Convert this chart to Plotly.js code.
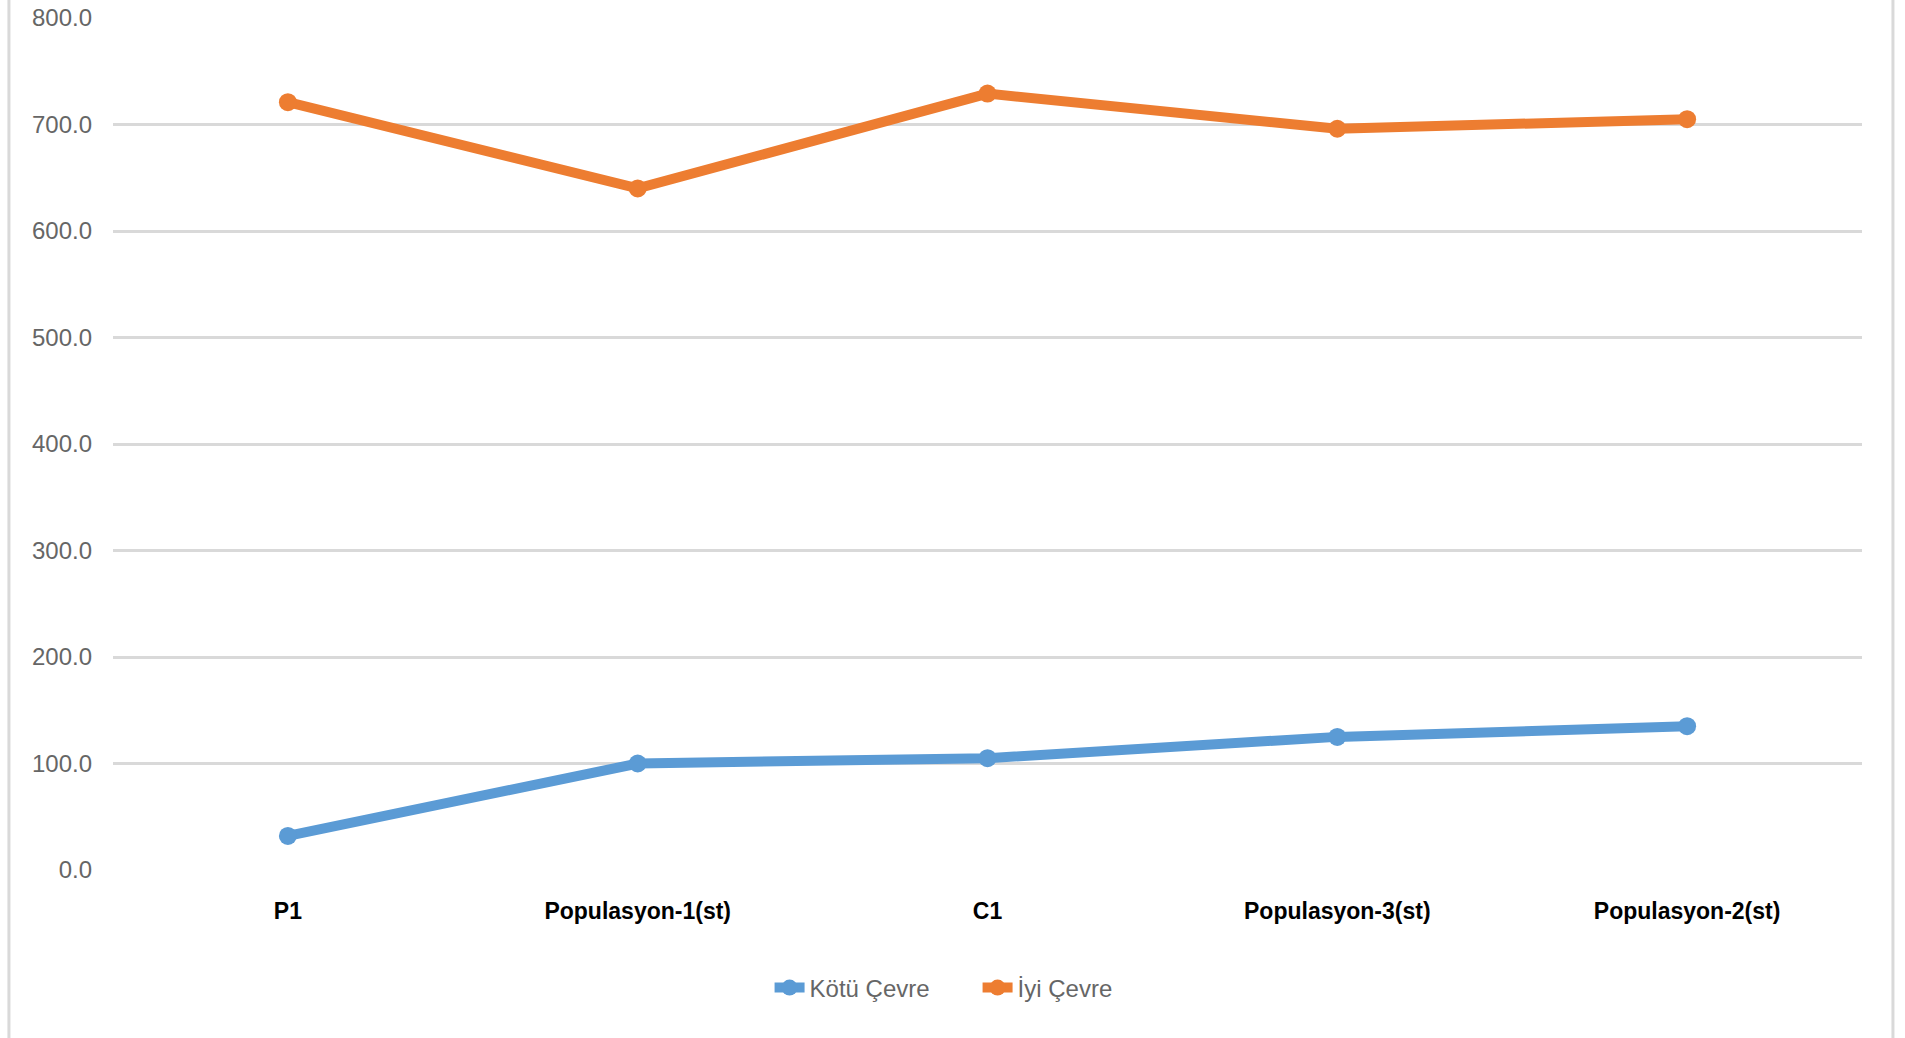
<!DOCTYPE html>
<html>
<head>
<meta charset="utf-8">
<script src="https://cdn.plot.ly/plotly-3.0.1.min.js"></script>
<style>html,body{margin:0;padding:0;background:#fff;}#chart{width:1905px;height:1038px;}</style>
</head>
<body>
<div id="chart"></div>
<script>
const categories = ["P1", "Populasyon-1(st)", "C1", "Populasyon-3(st)", "Populasyon-2(st)"];
const kotuCevre = [32, 100, 105, 125, 135];
const iyiCevre = [721, 640, 729, 696, 705];
const seriesNames = ["Kötü Çevre", "İyi Çevre"];
const yTicks = [0, 100, 200, 300, 400, 500, 600, 700, 800];

const sans = '"Liberation Sans", Arial, sans-serif';

const traces = [
  {x: categories, y: kotuCevre, name: seriesNames[0], type: 'scatter', mode: 'lines+markers',
   line: {color: '#5B9BD5', width: 10}, marker: {color: '#5B9BD5', size: 18}},
  {x: categories, y: iyiCevre, name: seriesNames[1], type: 'scatter', mode: 'lines+markers',
   line: {color: '#ED7D31', width: 10}, marker: {color: '#ED7D31', size: 18}}
];

const layout = {
  width: 1905, height: 1038,
  margin: {l: 113, r: 43, t: 18, b: 168},
  paper_bgcolor: '#fff', plot_bgcolor: '#fff',
  showlegend: true,
  legend: {orientation: 'h', x: 0.3754, xanchor: 'left', y: -0.1385, yanchor: 'middle',
           entrywidth: 163, entrywidthmode: 'pixels',
           font: {family: sans, size: 24, color: '#666666'}, itemwidth: 30, tracegroupgap: 0},
  xaxis: {type: 'category', range: [-0.5, 4.5], showgrid: false, zeroline: false, showline: false,
          ticks: '', ticklabelstandoff: 25,
          tickfont: {family: sans, size: 23, color: '#000', weight: 'bold'}},
  yaxis: {range: [0, 800], tickvals: yTicks, tickformat: '.1f', showgrid: true, gridcolor: '#D9D9D9',
          gridwidth: 3, zeroline: false, showline: false, ticks: '', ticklabelstandoff: 20,
          tickfont: {family: sans, size: 24, color: '#666666'}},
  shapes: [
    {type: 'line', xref: 'paper', yref: 'paper', x0: -0.0595, x1: -0.0595, y0: -0.2, y1: 1.03,
     line: {color: '#D9D9D9', width: 3}},
    {type: 'line', xref: 'paper', yref: 'paper', x0: 1.0177, x1: 1.0177, y0: -0.2, y1: 1.03,
     line: {color: '#D9D9D9', width: 3}}
  ]
};

Plotly.newPlot('chart', traces, layout, {displayModeBar: false, staticPlot: true});
</script>
</body>
</html>
